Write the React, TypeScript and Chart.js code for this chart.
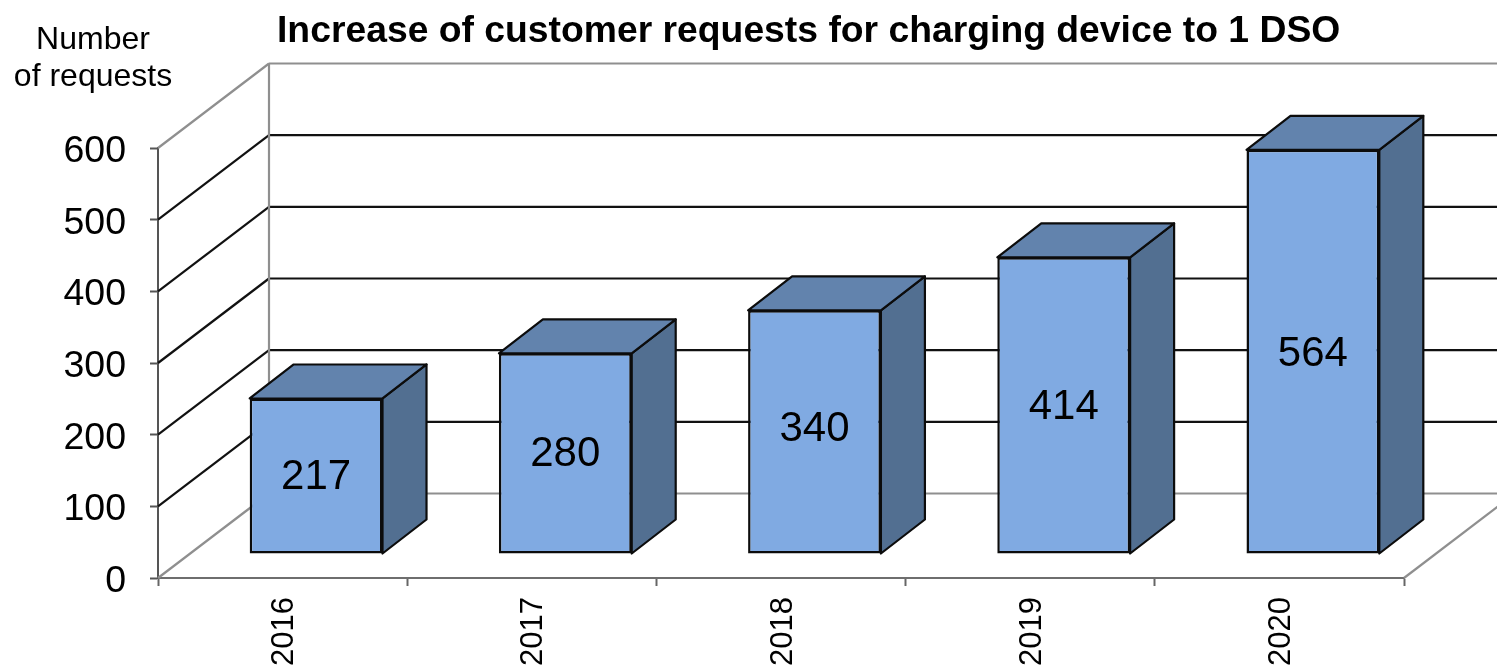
import React, { useEffect, useRef } from "react";
import { Chart, registerables } from "chart.js";

Chart.register(...registerables);

const categories = ["2016", "2017", "2018", "2019", "2020"];
const requests = [217, 280, 340, 414, 564];
const labelNudges = [2, 2, -2, 3, 3];
const yTicks = [0, 100, 200, 300, 400, 500, 600];
const titleText = "Increase of customer requests for charging device to 1 DSO";
const yTitleLines = ["Number", "of requests"];

const FONT = '"Liberation Sans", Arial, sans-serif';
const WALL = { dx: 111, dy: -84.5 };
const BAR_SHIFT = { dx: 33.5, dy: -24 };
const BAR_DEPTH = { dx: 44, dy: -34 };
const GRAY = "#8f8f8f";
const FRONT = "#80aae2";
const TOP = "#6283ad";
const SIDE = "#526f91";

function seg(ctx: CanvasRenderingContext2D, x1: number, y1: number, x2: number, y2: number, color: string, w = 2.2) {
  ctx.strokeStyle = color;
  ctx.lineWidth = w;
  ctx.beginPath();
  ctx.moveTo(x1, y1);
  ctx.lineTo(x2, y2);
  ctx.stroke();
}

function poly(ctx: CanvasRenderingContext2D, pts: number[][], fill: string) {
  ctx.fillStyle = fill;
  ctx.strokeStyle = "#0c0c0c";
  ctx.lineWidth = 2.2;
  ctx.lineJoin = "round";
  ctx.beginPath();
  pts.forEach((p, i) => (i ? ctx.lineTo(p[0], p[1]) : ctx.moveTo(p[0], p[1])));
  ctx.closePath();
  ctx.fill();
  ctx.stroke();
}

const wallPlugin = {
  id: "wall3d",
  beforeDatasetsDraw(chart: any) {
    const { ctx, chartArea, scales } = chart;
    const y = scales.y;
    const { left, right, bottom } = chartArea;
    ctx.save();
    yTicks.forEach((t) => {
      const py = y.getPixelForValue(t);
      const edge = t === 0 || t === 600;
      const color = edge ? GRAY : "#111111";
      seg(ctx, left, py, left + WALL.dx, py + WALL.dy, color);
      seg(ctx, left + WALL.dx, py + WALL.dy, right + WALL.dx, py + WALL.dy, color);
    });
    seg(ctx, left + WALL.dx, y.getPixelForValue(600) + WALL.dy, left + WALL.dx, bottom + WALL.dy, GRAY);
    seg(ctx, right, bottom, right + WALL.dx, bottom + WALL.dy, GRAY);
    ctx.restore();
  },
  beforeDatasetDraw(chart: any, args: any) {
    const { ctx } = chart;
    ctx.save();
    ctx.translate(BAR_SHIFT.dx, BAR_SHIFT.dy);
    const meta = chart.getDatasetMeta(args.index);
    meta.data.forEach((bar: any) => {
      const p = bar.getProps(["x", "y", "base", "width"], true);
      const l = p.x - p.width / 2;
      const r = p.x + p.width / 2;
      poly(ctx, [[r, p.y], [r + BAR_DEPTH.dx, p.y + BAR_DEPTH.dy], [r + BAR_DEPTH.dx, p.base + BAR_DEPTH.dy], [r, p.base]], SIDE);
      poly(ctx, [[l, p.y], [l + BAR_DEPTH.dx, p.y + BAR_DEPTH.dy], [r + BAR_DEPTH.dx, p.y + BAR_DEPTH.dy], [r, p.y]], TOP);
    });
  },
  afterDatasetDraw(chart: any, args: any) {
    const { ctx } = chart;
    const meta = chart.getDatasetMeta(args.index);
    const values = chart.data.datasets[args.index].data;
    ctx.fillStyle = "#000";
    ctx.font = `42px ${FONT}`;
    ctx.textAlign = "center";
    ctx.textBaseline = "middle";
    meta.data.forEach((bar: any, i: number) => {
      const p = bar.getProps(["x", "y", "base"], true);
      ctx.fillText(String(values[i]), p.x, (p.y + p.base) / 2 + labelNudges[i] - 0.5);
    });
    ctx.restore();
  },
  afterDraw(chart: any) {
    const { ctx } = chart;
    ctx.save();
    ctx.fillStyle = "#000";
    ctx.textBaseline = "alphabetic";
    ctx.textAlign = "left";
    ctx.font = `bold 37.3px ${FONT}`;
    ctx.fillText(titleText, 277, 42);
    ctx.textAlign = "center";
    ctx.font = `32px ${FONT}`;
    ctx.fillText(yTitleLines[0], 93, 49);
    ctx.fillText(yTitleLines[1], 93, 86);
    ctx.restore();
  },
};

export default function App() {
  const ref = useRef<HTMLCanvasElement>(null);
  useEffect(() => {
    const chart = new Chart(ref.current!, {
      type: "bar",
      data: {
        labels: categories,
        datasets: [
          {
            data: requests,
            backgroundColor: FRONT,
            borderColor: "#0c0c0c",
            borderWidth: 2.5,
            borderSkipped: false,
            barPercentage: 0.533,
            categoryPercentage: 1,
            clip: false,
          } as any,
        ],
      },
      options: {
        responsive: false,
        animation: false,
        events: [],
        layout: { padding: { top: 148, right: 93, left: 0, bottom: 0 } },
        plugins: { legend: { display: false }, title: { display: false }, tooltip: { enabled: false } },
        scales: {
          x: {
            grid: { drawOnChartArea: false, drawTicks: true, tickLength: 8, tickWidth: 2, tickColor: "#666666", offset: true },
            border: { color: "#6e6e6e", width: 2 },
            ticks: {
              color: "#000",
              font: { family: FONT, size: 31 },
              minRotation: 90,
              maxRotation: 90,
              autoSkip: false,
              padding: 11,
              labelOffset: 2,
            },
            afterFit(s: any) {
              s.height = 93;
            },
          },
          y: {
            min: 0,
            max: 600,
            grid: { drawOnChartArea: false, drawTicks: true, tickLength: 8, tickWidth: 2, tickColor: "#555555" },
            border: { color: "#555555", width: 2 },
            ticks: {
              color: "#000",
              font: { family: FONT, size: 37.5 },
              stepSize: 100,
              padding: 24,
              labelOffset: 3.5,
            },
            afterFit(s: any) {
              s.width = 158;
            },
          },
        },
      },
      plugins: [wallPlugin],
    } as any);
    return () => chart.destroy();
  }, []);
  return (
    <div style={{ position: "fixed", left: 0, top: 0, width: 1497, height: 671, overflow: "hidden", background: "#fff" }}>
      <canvas ref={ref} width={1497} height={671} style={{ display: "block" }} />
    </div>
  );
}
